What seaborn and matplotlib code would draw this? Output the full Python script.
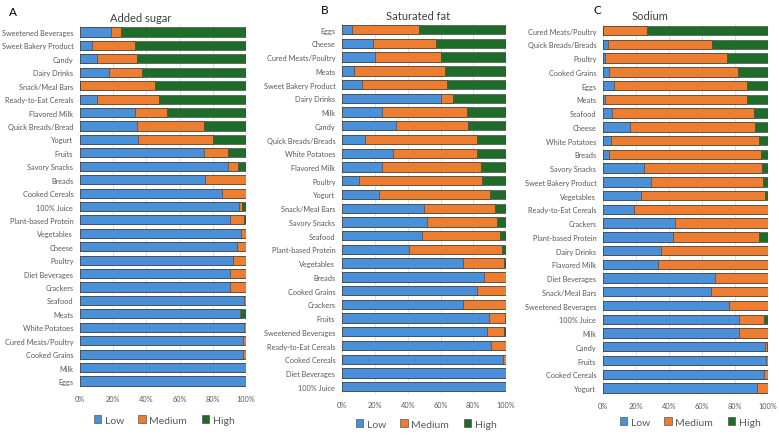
import matplotlib
matplotlib.use("Agg")
import matplotlib.pyplot as plt
from matplotlib.patches import Patch
import seaborn as sns
import pandas as pd

# Share of products (%) by level, per nutrient
cats_a = ["Sweetened Beverages", "Sweet Bakery Product", "Candy", "Dairy Drinks",
          "Snack/Meal Bars", "Ready-to-Eat Cereals", "Flavored Milk", "Quick Breads/Bread",
          "Yogurt", "Fruits", "Savory Snacks", "Breads", "Cooked Cereals", "100% Juice",
          "Plant-based Protein", "Vegetables", "Cheese", "Poultry", "Diet Beverages",
          "Crackers", "Seafood", "Meats", "White Potatoes", "Cured Meats/Poultry",
          "Cooked Grains", "Milk", "Eggs"]
low_a = [18.5, 7, 10, 17.5, 0, 10, 33, 34, 35, 75, 89, 75.5, 85.5, 95.8, 90.7, 97,
         94.6, 92.3, 90.3, 90.3, 98.8, 96.8, 98.8, 98.2, 98.2, 100, 100]
med_a = [6, 26, 24, 20, 45, 37.5, 19.5, 41, 45, 14.5, 6.5, 24.5, 14.5, 2, 8.1, 3,
         5.4, 7.7, 9.7, 9.7, 1.2, 0.4, 1.2, 1.8, 1.8, 0, 0]
high_a = [75.5, 67, 66, 62.5, 55, 52.5, 47.5, 25, 20, 10.5, 4.5, 0, 0, 2.2, 1.2, 0,
          0, 0, 0, 0, 0, 2.8, 0, 0, 0, 0, 0]

cats_b = ["Eggs", "Cheese", "Cured Meats/Poultry", "Meats", "Sweet Bakery Product",
          "Dairy Drinks", "Milk", "Candy", "Quick Breads/Breads", "White Potatoes",
          "Flavored Milk", "Poultry", "Yogurt", "Snack/Meal Bars", "Savory Snacks",
          "Seafood", "Plant-based Protein", "Vegetables", "Breads", "Cooked Grains",
          "Crackers", "Fruits", "Sweetened Beverages", "Ready-to-Eat Cereals",
          "Cooked Cereals", "Diet Beverages", "100% Juice"]
low_b = [6, 19, 20, 7, 12, 60, 24, 33, 14, 31, 24, 10, 22.5, 50, 52, 48.5, 41, 74,
         86.8, 82.1, 73.9, 89.8, 88.6, 91, 98.4, 100, 100]
med_b = [41, 38, 40, 56, 52, 7.5, 52, 44, 68, 51.5, 61, 75.5, 68, 43.5, 42.5, 48,
         56.5, 24.5, 13.2, 17.9, 26.1, 9.4, 10.4, 9, 1.6, 0, 0]
high_b = [53, 43, 40, 37, 36, 32.5, 24, 23, 18, 17.5, 15, 14.5, 9.5, 6.5, 5.5, 3.5,
          2.5, 1.5, 0, 0, 0, 0.8, 1, 0, 0, 0, 0]

cats_c = ["Cured Meats/Poultry", "Quick Breads/Breads", "Poultry", "Cooked Grains",
          "Eggs", "Meats", "Seafood", "Cheese", "White Potatoes", "Breads",
          "Savory Snacks", "Sweet Bakery Product", "Vegetables", "Ready-to-Eat Cereals",
          "Crackers", "Plant-based Protein", "Dairy Drinks", "Flavored Milk",
          "Diet Beverages", "Snack/Meal Bars", "Sweetened Beverages", "100% Juice",
          "Milk", "Candy", "Fruits", "Cooked Cereals", "Yogurt"]
low_c = [0, 3, 1, 3.5, 6.5, 1, 5, 16.5, 4.5, 3.5, 25, 29, 23, 18.6, 43.7, 42.5,
         35.2, 33.2, 68, 65.2, 76.1, 82.6, 82.6, 98, 98.6, 97.6, 93.5]
med_c = [26.5, 63, 74, 78, 81, 86.5, 86.5, 75.5, 90, 92.5, 71.5, 68, 75, 81.4, 56.3,
         52, 64.8, 66.8, 32, 34.8, 23.9, 15.2, 17.4, 1.4, 1.4, 2.4, 6.5]
high_c = [73.5, 34, 25, 18.5, 12.5, 12.5, 8.5, 8, 5.5, 4, 3.5, 3, 2, 0, 0, 5.5, 0,
          0, 0, 0, 0, 2.2, 0, 0.6, 0, 0, 0]

levels = ["Low", "Medium", "High"]
colors = {"Low": "#4a90d9", "Medium": "#ed7d31", "High": "#1e6b2a"}
x_ticks = [0, 20, 40, 60, 80, 100]

sns.set_style("white")
plt.rcParams['font.family'] = ['Lato', 'DejaVu Sans']

TXT = "#595959"


def stacked_panel(ax, cats, low, med, high):
    """Stacked 100% horizontal bars, drawn back-to-front as cumulative totals."""
    df = pd.DataFrame({"cat": cats, "Low": low, "Medium": med, "High": high})
    df["c_high"] = df["Low"] + df["Medium"] + df["High"]
    df["c_med"] = df["Low"] + df["Medium"]
    df["c_low"] = df["Low"]
    for col, lev in [("c_high", "High"), ("c_med", "Medium"), ("c_low", "Low")]:
        sns.barplot(data=df, y="cat", x=col, order=cats, orient="h",
                    color=colors[lev], saturation=1, width=0.68,
                    edgecolor="#3a3a3a", linewidth=0.4, ax=ax)
    ax.set_xlim(0, 100)
    ax.set_xticks(x_ticks)
    ax.set_xticklabels([f"{t}%" for t in x_ticks])
    ax.set_xlabel("")
    ax.set_ylabel("")
    ax.set_axisbelow(True)
    ax.grid(axis="x", color="#d9d9d9", linewidth=0.6)
    ax.grid(axis="y", visible=False)
    for s in ax.spines.values():
        s.set_visible(False)
    ax.tick_params(axis="both", length=0, labelsize=5.3, colors=TXT, pad=5)


fig = plt.figure(figsize=(7.79, 4.39), dpi=100)
H = 439.0
W = 779.0

# axes boxes in pixel terms: left, right, top, bottom
boxes = [(80.3, 245.7, 26.3, 388.7),
         (342.3, 506.0, 23.8, 394.6),
         (603.3, 768.0, 24.8, 395.9)]
panels = [(cats_a, low_a, med_a, high_a),
          (cats_b, low_b, med_b, high_b),
          (cats_c, low_c, med_c, high_c)]

for (l, r, t, b), data in zip(boxes, panels):
    ax = fig.add_axes([l / W, 1 - b / H, (r - l) / W, (b - t) / H])
    stacked_panel(ax, *data)

# panel letters and titles
for letter, x, y in [("A", 13, 13), ("B", 325, 10), ("C", 597, 10)]:
    fig.text(x / W, 1 - y / H, letter, fontsize=8.5, color="black",
             ha="center", va="center")
for title, x, y in [("Added sugar", 141, 19), ("Saturated fat", 418, 17), ("Sodium", 650, 16)]:
    fig.text(x / W, 1 - y / H, title, fontsize=8, color="#404040",
             ha="center", va="center")

handles = [Patch(facecolor=colors[lv], edgecolor="#3a3a3a", linewidth=0.4) for lv in levels]
for cx, cy in [(164, 421), (426, 425), (690, 423)]:
    fig.legend(handles, levels, loc="center", bbox_to_anchor=(cx / W, 1 - cy / H),
               ncol=3, frameon=False, fontsize=7.5, handlelength=0.75, handleheight=0.75,
               handletextpad=0.3, columnspacing=1.4, labelcolor=TXT)

fig.savefig("out.png", dpi=100)
